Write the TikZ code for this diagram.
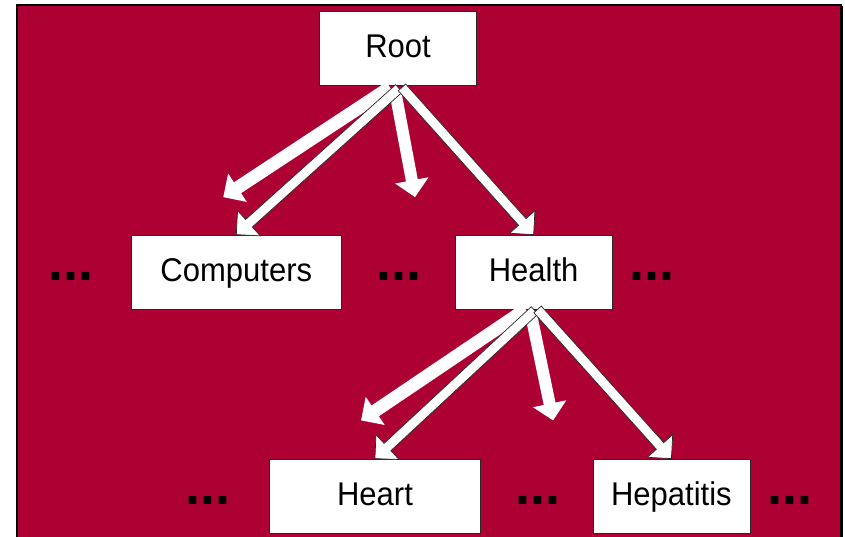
\documentclass[tikz,border=0pt]{standalone}
\usepackage{fontspec}
\setmainfont{Liberation Sans}
\usetikzlibrary{calc}
\definecolor{bgred}{RGB}{173,0,51}
\definecolor{edgegray}{RGB}{40,40,40}
% #1 style, #2 start, #3 tip, #4 shaft half width
\newcommand{\blockarrow}[4]{%
  \coordinate (ahb) at ($(#3)!17pt!(#2)$);
  \path[#1] ($(#2)!#4!90:(#3)$) -- ($(ahb)!#4!90:(#3)$) -- ($(ahb)!17pt!90:(#3)$)
    -- (#3) -- ($(ahb)!17pt!-90:(#3)$) -- ($(ahb)!#4!-90:(#3)$) -- ($(#2)!#4!-90:(#3)$) -- cycle;
}
\begin{document}
\begin{tikzpicture}[x=1pt,y=-1pt,
  box/.style={draw=edgegray, line width=0.8pt, fill=white, minimum height=74pt,
    inner sep=0pt, text height=19.5pt, text depth=0pt, font=\fontsize{31}{37}\selectfont},
  dots/.style={anchor=base, inner sep=0pt, font=\fontsize{54}{60}\selectfont\bfseries},
  ghostarrow/.style={fill=white},
  linkarrow/.style={fill=white, draw=edgegray, line width=0.7pt, line join=miter}]
\useasboundingbox (0,0) rectangle (845,537);
% background panel
\fill[bgred] (17,5) rectangle (841,545);
\draw[black, line width=1.6pt] (17,545) -- (17,5) -- (841,5) -- (841,545);
\draw[black, line width=1.2pt] (842.3,6) -- (842.3,545);
% nodes
\node[box, minimum width=157pt] (root) at (398,48) {\scalebox{1}[1.06]{Root}};
\node[box, minimum width=210pt] (comp) at (236.3,272) {\scalebox{1}[1.06]{Computers}};
\node[box, minimum width=157pt] (health) at (533.6,272) {\scalebox{1}[1.06]{Health}};
\node[box, minimum width=211pt] (heart) at (375,496) {\scalebox{1}[1.06]{Heart}};
\node[box, minimum width=157pt] (hepa) at (671.4,496) {\scalebox{1}[1.06]{Hepatitis}};
% dots
\node[dots] (d1) at (70.8,280) {...};
\node[dots] (d2) at (399.3,280) {...};
\node[dots] (d3) at (652,280) {...};
\node[dots] (d4) at (208,504) {...};
\node[dots] (d5) at (537.5,504) {...};
\node[dots] (d6) at (790,504) {...};
% arrows from Root
\coordinate (rs1) at ($(root.south)+(1,3)$);
\coordinate (rs2) at ($(root.south)+(-8,2)$);
\coordinate (rs3) at ($(root.south)+(-3,5)$);
\coordinate (rs4) at ($(root.south)+(4,2)$);
\coordinate (rg2) at ($(root.south)+(-174.7,111.7)$);
\coordinate (rg3) at ($(root.south)+(17,111.7)$);
\blockarrow{ghostarrow}{rs2}{rg2}{6.5pt}
\blockarrow{ghostarrow}{rs3}{rg3}{6pt}
\blockarrow{linkarrow}{rs1}{comp.north}{5pt}
\blockarrow{linkarrow}{rs4}{health.north}{5pt}
% arrows from Health
\coordinate (hs1) at ($(health.south)+(1,1)$);
\coordinate (hs2) at ($(health.south)+(-8,0)$);
\coordinate (hs3) at ($(health.south)+(-3,3)$);
\coordinate (hs4) at ($(health.south)+(4,0)$);
\coordinate (hg2) at ($(health.south)+(-172.5,111)$);
\coordinate (hg3) at ($(health.south)+(19.5,111)$);
\blockarrow{ghostarrow}{hs2}{hg2}{6.5pt}
\blockarrow{ghostarrow}{hs3}{hg3}{6pt}
\blockarrow{linkarrow}{hs1}{heart.north}{5pt}
\blockarrow{linkarrow}{hs4}{hepa.north}{5pt}
\end{tikzpicture}
\end{document}
